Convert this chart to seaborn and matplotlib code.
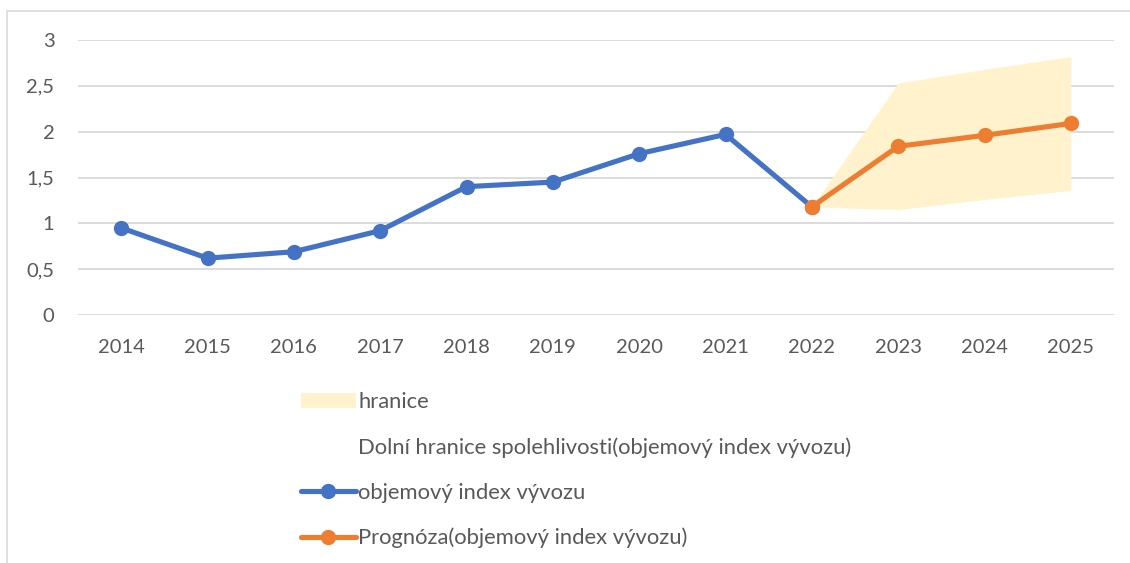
import matplotlib
matplotlib.use("Agg")
import matplotlib.pyplot as plt
from matplotlib.patches import Patch, Rectangle
from matplotlib.lines import Line2D
from matplotlib.ticker import FuncFormatter
import seaborn as sns
import pandas as pd

years_hist = [2014, 2015, 2016, 2017, 2018, 2019, 2020, 2021, 2022]
index_hist = [0.95, 0.62, 0.69, 0.92, 1.40, 1.45, 1.76, 1.97, 1.18]

years_fc = [2022, 2023, 2024, 2025]
index_fc = [1.18, 1.84, 1.96, 2.09]
lower_fc = [1.18, 1.15, 1.26, 1.36]
upper_fc = [1.18, 2.53, 2.68, 2.82]

all_years = [2014, 2015, 2016, 2017, 2018, 2019, 2020, 2021, 2022, 2023, 2024, 2025]

lbl_band = "hranice"
lbl_lower = "Dolní hranice spolehlivosti(objemový index vývozu)"
lbl_hist = "objemový index vývozu"
lbl_fc = "Prognóza(objemový index vývozu)"

BLUE = "#4472C4"
ORANGE = "#ED7D31"
BAND = "#FFF2CC"
GRID = "#D9D9D9"
TEXT = "#595959"

sns.set_theme(style="white")
plt.rcParams['font.family'] = ['Lato', 'DejaVu Sans']

fig = plt.figure(figsize=(11.30, 5.63), dpi=100)
ax = fig.add_axes([78 / 1130, 1 - 315 / 563, (1114 - 78) / 1130, (315 - 40) / 563])

# outer chart frame
fig.patches.append(Rectangle((7 / 1130, -0.05), 1.1, (563 - 11) / 563 + 0.05,
                             transform=fig.transFigure, fill=False,
                             edgecolor=GRID, linewidth=1.2, zorder=0))

ax.fill_between(years_fc, lower_fc, upper_fc, color=BAND, linewidth=0, zorder=1)

LW = 3.7
MS = 11
df_h = pd.DataFrame({"year": years_hist, "v": index_hist})
df_f = pd.DataFrame({"year": years_fc, "v": index_fc})
sns.lineplot(data=df_h, x="year", y="v", ax=ax, color=BLUE, linewidth=LW,
             marker="o", markersize=MS, markeredgewidth=0, zorder=3)
sns.lineplot(data=df_f, x="year", y="v", ax=ax, color=ORANGE, linewidth=LW,
             marker="o", markersize=MS, markeredgewidth=0, zorder=4)

ax.set_xlim(2013.5, 2025.5)
ax.set_ylim(0, 3)
ax.set_xticks(all_years)
ax.set_xticklabels([str(y) for y in all_years])
ax.set_yticks([0, 0.5, 1, 1.5, 2, 2.5, 3])
ax.yaxis.set_major_formatter(FuncFormatter(lambda v, p: f"{v:g}".replace(".", ",")))
ax.set_xlabel("")
ax.set_ylabel("")
ax.grid(axis="y", color=GRID, linewidth=1.3)
ax.grid(axis="x", visible=False)
for s in ax.spines.values():
    s.set_visible(False)
ax.tick_params(axis="both", length=0, labelsize=14.5, labelcolor=TEXT)
ax.tick_params(axis="y", pad=17)
ax.tick_params(axis="x", pad=17)
ax.set_axisbelow(True)

handles = [
    Patch(facecolor=BAND, edgecolor="none"),
    Patch(facecolor="none", edgecolor="none"),
    Line2D([], [], color=BLUE, linewidth=LW, marker="o", markersize=MS, markeredgewidth=0),
    Line2D([], [], color=ORANGE, linewidth=LW, marker="o", markersize=MS, markeredgewidth=0),
]
labels = [lbl_band, lbl_lower, lbl_hist, lbl_fc]
leg = fig.legend(handles, labels, loc="upper left",
                 bbox_to_anchor=(290 / 1130, 1 - 381 / 563),
                 frameon=False, fontsize=15.8, labelcolor=TEXT,
                 handlelength=2.5, handleheight=0.7, handletextpad=0.1,
                 labelspacing=1.14, borderpad=0)

fig.savefig("out.png", dpi=100, facecolor="white")
